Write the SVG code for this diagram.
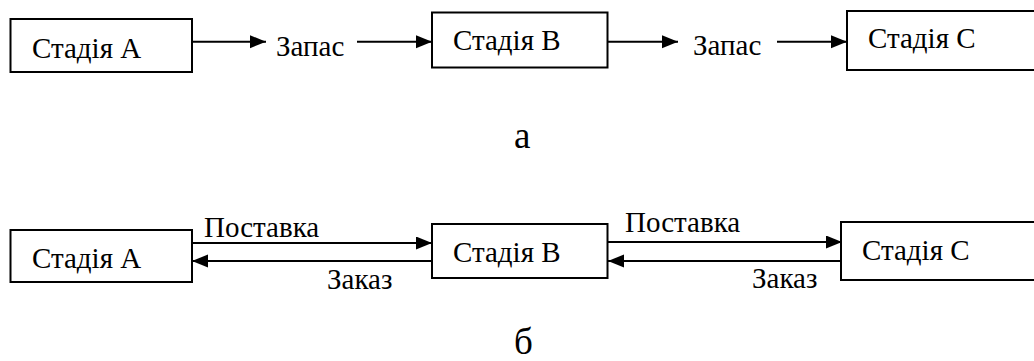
<svg xmlns="http://www.w3.org/2000/svg" width="1034" height="361" viewBox="0 0 1034 361">
<style>
.box{fill:#fff;stroke:#000;stroke-width:2}
.ln{stroke:#000;stroke-width:2;fill:none;marker-end:url(#ah)}
.t{font-family:'Liberation Serif','DejaVu Serif',serif;font-size:29px;fill:#000}
.big{font-size:37px}
</style>
<defs>
<marker id="ah" markerUnits="userSpaceOnUse" markerWidth="17" markerHeight="14" refX="16" refY="6.5" orient="auto">
<path d="M0,0 L16,6.5 L0,13 z" fill="#000"/>
</marker>
</defs>
<rect width="1034" height="361" fill="#fff"/>
<g id="edges">
<line class="ln" x1="192" y1="41.7" x2="266" y2="41.7"/>
<line class="ln" x1="357" y1="41.7" x2="432" y2="41.7"/>
<line class="ln" x1="608" y1="41.7" x2="678" y2="41.7"/>
<line class="ln" x1="777" y1="41.7" x2="847" y2="41.7"/>
<line class="ln" x1="192" y1="243" x2="432" y2="243"/>
<line class="ln" x1="432" y1="261" x2="192" y2="261"/>
<line class="ln" x1="608" y1="242" x2="842" y2="242"/>
<line class="ln" x1="843" y1="261" x2="608" y2="261"/>
<text class="t" x="276" y="56">Запас</text>
<text class="t" x="693" y="55">Запас</text>
<text class="t" x="204" y="237">Поставка</text>
<text class="t" x="327" y="289">Заказ</text>
<text class="t" x="625" y="232">Поставка</text>
<text class="t" x="752" y="288">Заказ</text>
</g>
<g id="a-stageA"><rect class="box" x="10.5" y="19" width="181.5" height="53"/><text class="t" x="32" y="58">Стадія А</text></g>
<g id="a-stageB"><rect class="box" x="432" y="12.5" width="175.5" height="55"/><text class="t" x="453" y="50">Стадія В</text></g>
<g id="a-stageC"><rect class="box" x="847" y="11" width="200" height="59"/><text class="t" x="868" y="48">Стадія С</text></g>
<g id="b-stageA"><rect class="box" x="10.5" y="230" width="181.5" height="52"/><text class="t" x="32" y="268">Стадія А</text></g>
<g id="b-stageB"><rect class="box" x="432" y="224" width="175.5" height="54"/><text class="t" x="453" y="262">Стадія В</text></g>
<g id="b-stageC"><rect class="box" x="841" y="222" width="206" height="58"/><text class="t" x="862" y="260">Стадія С</text></g>
<text class="t big" x="514" y="148">а</text>
<text class="t big" x="514" y="354">б</text>
</svg>
